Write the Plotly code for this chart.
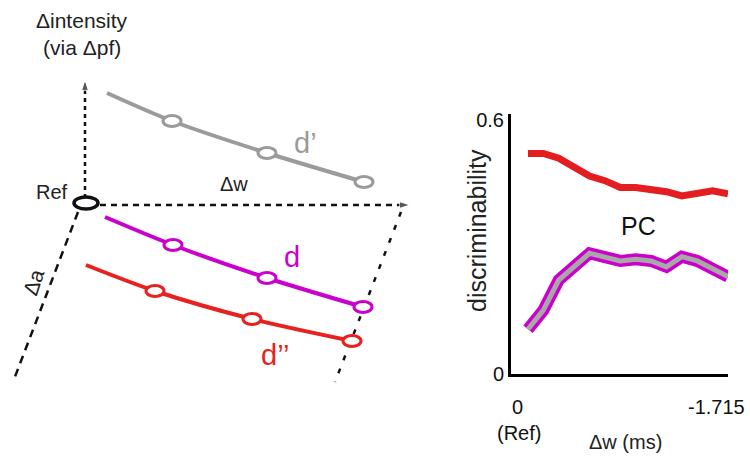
import plotly.graph_objects as go

FONT = "Liberation Sans, Arial, sans-serif"

# ---------------- right panel data ----------------
dw_ms = [-0.1225, -0.245, -0.3675, -0.49, -0.6125, -0.735, -0.8575,
         -0.98, -1.1025, -1.225, -1.3475, -1.47, -1.5925, -1.715]
disc_red = [0.520, 0.520, 0.509, 0.490, 0.467, 0.456, 0.440,
            0.440, 0.436, 0.430, 0.420, 0.426, 0.432, 0.425]
disc_mag = [0.106, 0.151, 0.222, 0.254, 0.285, 0.276, 0.267,
            0.271, 0.267, 0.253, 0.277, 0.267, 0.250, 0.230]
y_ticks = [0, 0.6]
y_ticklabels = ["0", "0.6"]
x_ticks = [0, -1.715]
x_ticklabels = ["0", "-1.715"]

# ---------------- left schematic data (schematic units) ----------------
dprime_x = [107, 172, 267, 364]
dprime_y = [93, 121, 153, 182]
d_x = [105, 173, 267, 363]
d_y = [217, 245, 278, 307]
dpp_x = [86, 155, 252, 352]
dpp_y = [265, 291, 319, 341]
ref_x, ref_y = 86, 203
int_axis_x = [85, 85]
int_axis_y = [198, 80]
w_axis_x = [100, 410]
w_axis_y = [205, 205]
a_axis_x = [78, 13]
a_axis_y = [212, 382]
far_axis_x = [401, 335]
far_axis_y = [212, 382]

GRAY = "#9b9b9b"
MAG = "#cc00cc"
RED = "#e8201e"

fig = go.Figure()

# schematic axes lines (dashed) with arrowheads
def dashed(xs, ys, dash, arrow):
    fig.add_trace(go.Scatter(
        x=xs, y=ys, mode="lines+markers" if arrow else "lines",
        line=dict(color="#111111", width=2.5, dash=dash),
        marker=dict(symbol="arrow", size=[0, 11] if arrow else 0,
                    angleref="previous", color="#111111"),
        xaxis="x", yaxis="y", hoverinfo="skip", showlegend=False))

dashed(int_axis_x, int_axis_y, "4px,4px", True)
dashed(w_axis_x, w_axis_y, "6px,5px", True)
dashed(a_axis_x, a_axis_y, "8px,6px", False)
dashed(far_axis_x, far_axis_y, "5px,9px", False)

# schematic curves
for xs, ys, col in [(dprime_x, dprime_y, GRAY), (d_x, d_y, MAG), (dpp_x, dpp_y, RED)]:
    fig.add_trace(go.Scatter(
        x=xs, y=ys, mode="lines",
        line=dict(color=col, width=4, shape="spline", smoothing=0.8),
        xaxis="x", yaxis="y", hoverinfo="skip", showlegend=False))

shapes = []
for xs, ys, col in [(dprime_x, dprime_y, GRAY), (d_x, d_y, MAG), (dpp_x, dpp_y, RED)]:
    for cx, cy in zip(xs[1:], ys[1:]):
        shapes.append(dict(type="circle", xref="x", yref="y",
                           x0=cx - 9, x1=cx + 9, y0=cy - 5.5, y1=cy + 5.5,
                           line=dict(color=col, width=3), fillcolor="white",
                           layer="above"))
shapes.append(dict(type="circle", xref="x", yref="y",
                   x0=ref_x - 12, x1=ref_x + 12, y0=ref_y - 6, y1=ref_y + 6,
                   line=dict(color="#111111", width=3.5), fillcolor="rgba(0,0,0,0)",
                   layer="above"))

# right panel lines
fig.add_trace(go.Scatter(x=dw_ms, y=disc_red, mode="lines",
                         line=dict(color="#e41e20", width=7),
                         xaxis="x2", yaxis="y2", showlegend=False))
fig.add_trace(go.Scatter(x=dw_ms, y=disc_mag, mode="lines",
                         line=dict(color=MAG, width=12),
                         xaxis="x2", yaxis="y2", showlegend=False))
fig.add_trace(go.Scatter(x=dw_ms, y=disc_mag, mode="lines",
                         line=dict(color="#a8a8a8", width=5),
                         xaxis="x2", yaxis="y2", showlegend=False))

def txt(x, y, s, size, color="#111111", angle=0, xref="x", yref="y", **kw):
    d = dict(x=x, y=y, text=s, xref=xref, yref=yref, showarrow=False,
             font=dict(family=FONT, size=size, color=color), textangle=angle)
    d.update(kw)
    return d

annotations = [
    txt(82, 20, "Δintensity", 21, "#222222"),
    txt(82, 47, "(via Δpf)", 21, "#222222"),
    txt(52, 192, "Ref", 20, "#222222"),
    txt(234, 184, "Δw", 20, "#222222"),
    txt(33, 282, "Δa", 21, "#222222", angle=-72),
    txt(305, 143, "d’", 29, GRAY),
    txt(292, 257, "d", 29, MAG),
    txt(275, 355, "d’’", 29, RED),
    txt(638, 226, "PC", 25, "#111111"),
    txt(477, 231, "discriminability", 25, "#222222", angle=-90),
    txt(x_ticks[0], 407, x_ticklabels[0], 20, "#111111", xref="x2", xshift=5),
    txt(x_ticks[0], 433, "(Ref)", 20, "#111111", xref="x2", xshift=6),
    txt(x_ticks[1], 407, x_ticklabels[1], 20, "#111111", xref="x2", xshift=-12),
    txt(625, 442, "Δw (ms)", 20, "#222222"),
]

fig.update_layout(
    template="none",
    width=750, height=456,
    margin=dict(l=0, r=0, t=0, b=0, pad=0, autoexpand=False),
    paper_bgcolor="white", plot_bgcolor="rgba(0,0,0,0)",
    showlegend=False,
    shapes=shapes,
    annotations=annotations,
    xaxis=dict(range=[0, 750], domain=[0, 1], visible=False, fixedrange=True,
               automargin=False),
    yaxis=dict(range=[456, 0], domain=[0, 1], visible=False, fixedrange=True,
               automargin=False),
    xaxis2=dict(range=[0.0127, -1.715], domain=[511 / 750, 728 / 750],
                anchor="y2", showgrid=False, zeroline=False, automargin=False,
                showline=True, linecolor="black", linewidth=3,
                ticks="", showticklabels=False),
    yaxis2=dict(range=[0, 0.613], domain=[(456 - 374.3) / 456, (456 - 114) / 456],
                anchor="x2", showgrid=False, zeroline=False, automargin=False,
                showline=True, linecolor="black", linewidth=3,
                ticks="", tickvals=y_ticks, ticktext=y_ticklabels,
                tickfont=dict(family=FONT, size=20, color="#111111")),
)

fig.write_html("out.html", config={"displayModeBar": False},
               post_script="document.body.style.margin='0px';document.body.style.overflow='hidden';")
